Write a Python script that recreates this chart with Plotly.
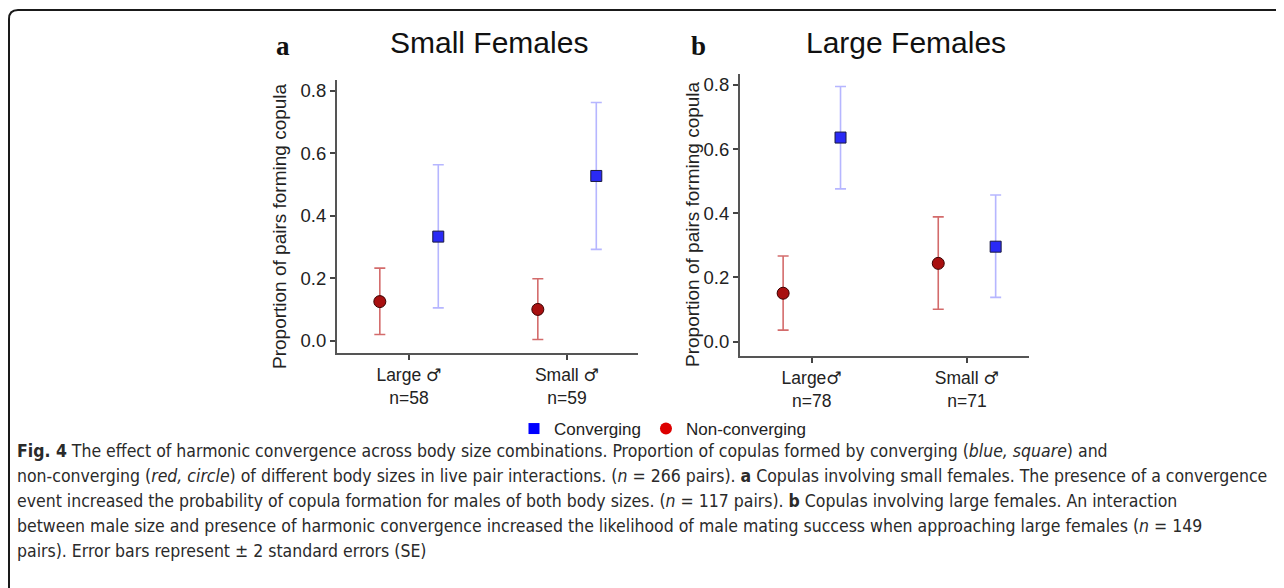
import plotly.graph_objects as go

# page is rendered with an 8px body margin: work in page pixels and convert
OX, OY = 8, 8
W, H = 1276, 580

MALE = '<span style="font-family:DejaVu Sans">♂</span>'
categories = [1, 2]
tick_text_a = [f"Large {MALE}<br>n=58", f"Small {MALE}<br>n=59"]
tick_text_b = [f"Large{MALE}<br>n=78", f"Small {MALE}<br>n=71"]

# Panel a: Small Females
a_conv = [0.334, 0.528]
a_conv_hi = [0.564, 0.763]
a_conv_lo = [0.106, 0.293]
a_non = [0.126, 0.101]
a_non_hi = [0.233, 0.199]
a_non_lo = [0.021, 0.005]

# Panel b: Large Females
b_conv = [0.636, 0.296]
b_conv_hi = [0.795, 0.457]
b_conv_lo = [0.476, 0.138]
b_non = [0.151, 0.244]
b_non_hi = [0.267, 0.389]
b_non_lo = [0.036, 0.101]

DODGE = 0.185
BLUE = "#2a2af5"
RED = "#a81010"
BLUE_ERR = "rgba(110,110,255,0.5)"
RED_ERR = "rgba(200,70,70,0.8)"

SANS = "Liberation Sans, Arial, DejaVu Sans, sans-serif"

fig = go.Figure()

def add_pair(xa, ya, conv, hi, lo, non, nhi, nlo):
    fig.add_trace(go.Scatter(
        x=[c - DODGE for c in categories], y=non, mode="markers", xaxis=xa, yaxis=ya,
        marker=dict(symbol="circle", size=12, color=RED, line=dict(color="#3a0000", width=1)),
        error_y=dict(type="data", symmetric=False,
                     array=[h - v for h, v in zip(nhi, non)],
                     arrayminus=[v - l for v, l in zip(non, nlo)],
                     color=RED_ERR, thickness=1.6, width=5.5),
        showlegend=False, hoverinfo="skip"))
    fig.add_trace(go.Scatter(
        x=[c + DODGE for c in categories], y=conv, mode="markers", xaxis=xa, yaxis=ya,
        marker=dict(symbol="square", size=11, color=BLUE, line=dict(color="#1a1a40", width=1)),
        error_y=dict(type="data", symmetric=False,
                     array=[h - v for h, v in zip(hi, conv)],
                     arrayminus=[v - l for v, l in zip(conv, lo)],
                     color=BLUE_ERR, thickness=1.6, width=5.5),
        showlegend=False, hoverinfo="skip"))

add_pair("x", "y", a_conv, a_conv_hi, a_conv_lo, a_non, a_non_hi, a_non_lo)
add_pair("x2", "y2", b_conv, b_conv_hi, b_conv_lo, b_non, b_non_hi, b_non_lo)

# legend-only traces
fig.add_trace(go.Scatter(x=[None], y=[None], mode="markers", name="Converging",
                         marker=dict(symbol="square", size=11, color="#0000ff")))
fig.add_trace(go.Scatter(x=[None], y=[None], mode="markers", name="Non-converging",
                         marker=dict(symbol="circle", size=12, color="#dd0000")))

def PX(x):
    return (x - OX) / W

def PY(y):
    return 1 - (y - OY) / H

tickfont = dict(family=SANS, size=18.5, color="#222")
AX = dict(showline=True, linecolor="#555", linewidth=2, ticks="outside", ticklen=5,
          tickcolor="#444", tickwidth=1.5, showgrid=False, zeroline=False,
          tickfont=tickfont)

fig.update_layout(
    width=W, height=H,
    margin=dict(l=0, r=0, t=0, b=0),
    paper_bgcolor="white", plot_bgcolor="white",
    xaxis=dict(AX, domain=[PX(337), PX(638)], range=[0.544, 2.449], tickvals=categories,
               ticktext=tick_text_a, anchor="y", tickfont=dict(tickfont, size=17.5)),
    yaxis=dict(AX, domain=[PY(353), PY(80)], range=[-0.0384, 0.835],
               tickvals=[0, 0.2, 0.4, 0.6, 0.8], tickformat=".1f", anchor="x"),
    xaxis2=dict(AX, domain=[PX(740), PX(1029)], range=[0.537, 2.40], tickvals=categories,
                ticktext=tick_text_b, anchor="y2", tickfont=dict(tickfont, size=17.5)),
    yaxis2=dict(AX, domain=[PY(356), PY(74)], range=[-0.0446, 0.834],
                tickvals=[0, 0.2, 0.4, 0.6, 0.8], tickformat=".1f", anchor="x2"),
    showlegend=True,
    legend=dict(orientation="h", x=PX(514), xanchor="left", y=PY(411), yanchor="top",
                font=dict(family=SANS, size=17, color="#222"),
                bgcolor="rgba(0,0,0,0)", itemwidth=30, tracegroupgap=0),
)

def ann(text, x, y, size, family, xanchor="center", color="#111", angle=0):
    fig.add_annotation(text=text, x=PX(x), y=PY(y), xref="paper", yref="paper",
                       showarrow=False, xanchor=xanchor, yanchor="middle", textangle=angle,
                       font=dict(size=size, family=family, color=color))

ann("Small Females", 489, 42, 30, SANS)
ann("Large Females", 906, 42, 30, SANS)
ann("<b>a</b>", 283, 46, 27, "Liberation Serif, Times New Roman, serif")
ann("<b>b</b>", 698, 46, 27, "Liberation Serif, Times New Roman, serif")
ann("Proportion of pairs forming copula", 280, 226, 19, SANS, color="#222", angle=-90)
ann("Proportion of pairs forming copula", 692, 224, 19, SANS, color="#222", angle=-90)

cap_font = "Liberation Sans Narrow, DejaVu Sans Condensed, Arial Narrow, sans-serif"
caption = [
    "<b>Fig. 4</b> The effect of harmonic convergence across body size combinations. Proportion of copulas formed by converging (<i>blue, square</i>) and",
    "non-converging (<i>red, circle</i>) of different body sizes in live pair interactions. (<i>n</i> = 266 pairs). <b>a</b> Copulas involving small females. The presence of a convergence",
    "event increased the probability of copula formation for males of both body sizes. (<i>n</i> = 117 pairs). <b>b</b> Copulas involving large females. An interaction",
    "between male size and presence of harmonic convergence increased the likelihood of male mating success when approaching large females (<i>n</i> = 149",
    "pairs). Error bars represent ± 2 standard errors (SE)",
]
for i, line in enumerate(caption):
    ann(line, 15, 451 + 25 * i, 17.5, cap_font, xanchor="left", color="#2a2a2a")

# rounded frame (top and left edges)
r = 9
fig.add_shape(type="path", xref="paper", yref="paper",
              path=(f"M {PX(9)},{PY(590)} L {PX(9)},{PY(10 + r)} "
                    f"Q {PX(9)},{PY(10)} {PX(9 + r)},{PY(10)} L {PX(1300)},{PY(10)}"),
              line=dict(color="#1a1a1a", width=2))

fig.write_html("out.html")
